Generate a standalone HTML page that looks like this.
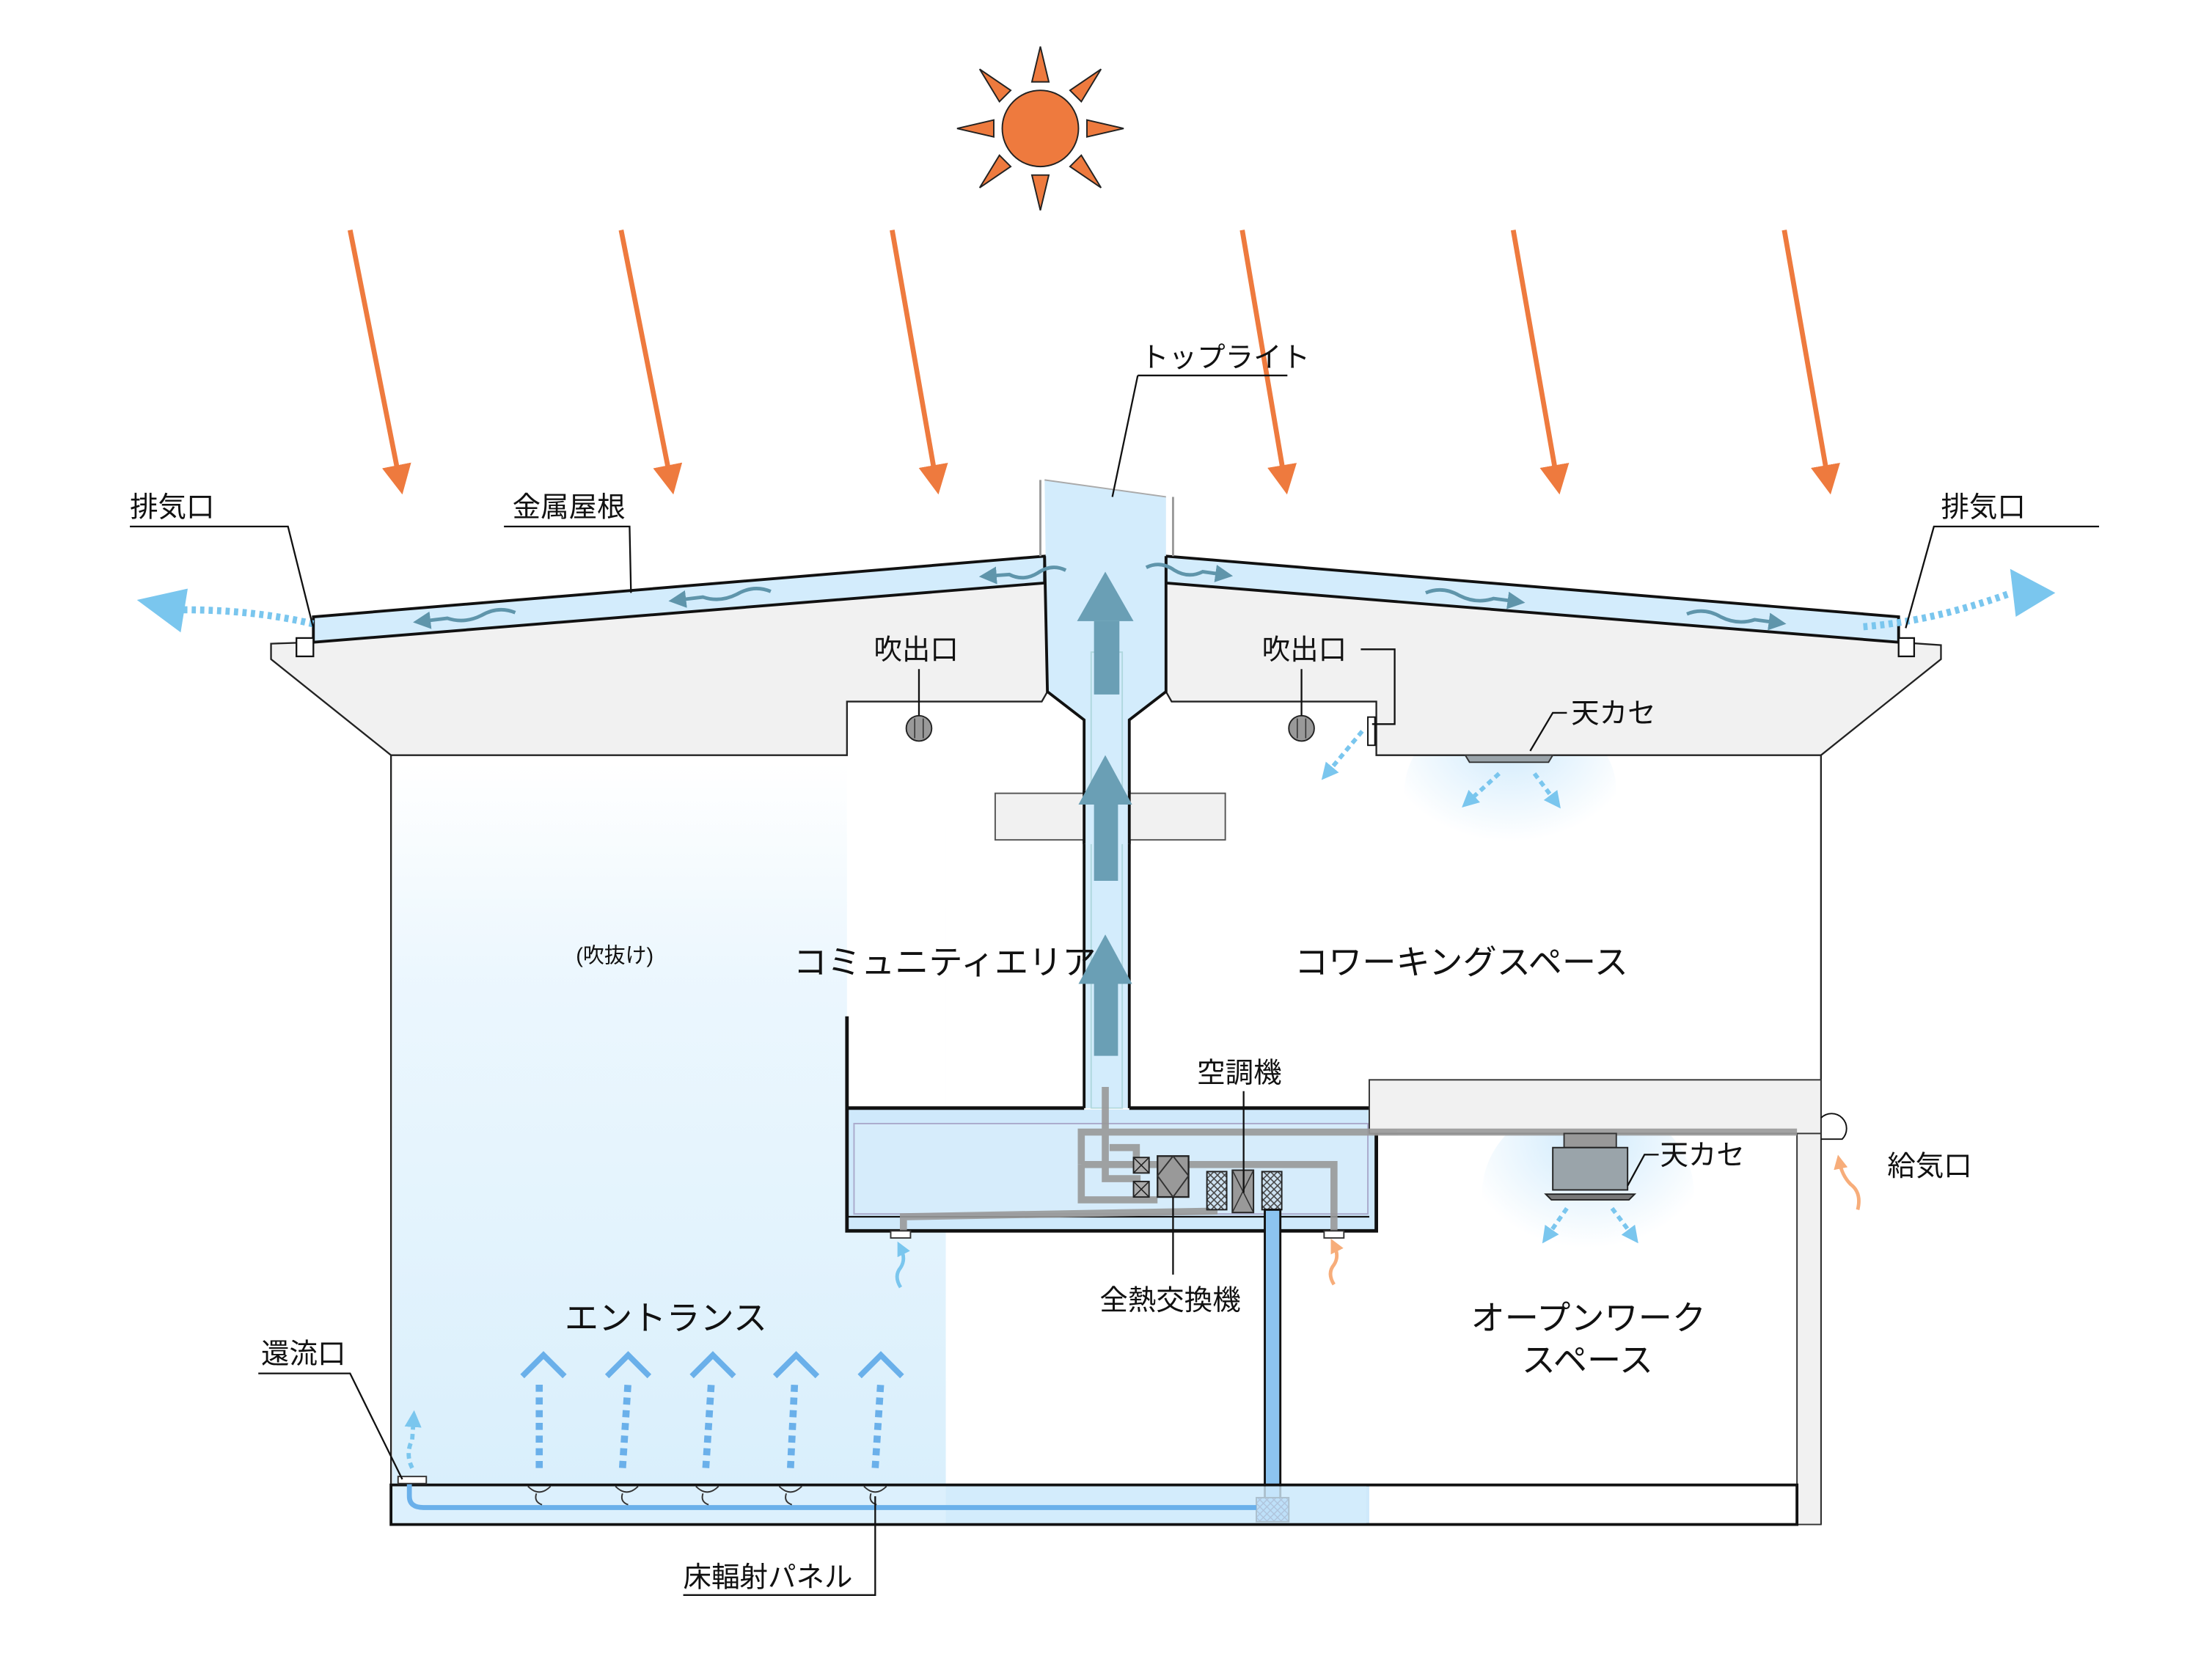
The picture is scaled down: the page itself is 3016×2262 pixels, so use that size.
<!DOCTYPE html>
<html><head><meta charset="utf-8"><style>
html,body{margin:0;padding:0;background:#fff}
svg{display:block}
text{font-family:"Liberation Sans","Noto Sans CJK JP",sans-serif;fill:#111}
</style></head><body>
<svg width="3016" height="2262" viewBox="0 0 1567 1175.3" preserveAspectRatio="none" xmlns="http://www.w3.org/2000/svg">
<defs>
<linearGradient id="lb" x1="0" y1="0" x2="0" y2="1">
<stop offset="0" stop-color="#e3f3fd" stop-opacity="0"/>
<stop offset="0.3" stop-color="#e3f3fd" stop-opacity="0.7"/>
<stop offset="1" stop-color="#d9effc"/>
</linearGradient>
<radialGradient id="glow" cx="0.5" cy="0.2" r="0.6">
<stop offset="0" stop-color="#cfeafc"/>
<stop offset="1" stop-color="#cfeafc" stop-opacity="0"/>
</radialGradient>
<pattern id="hatch" width="5" height="5" patternUnits="userSpaceOnUse">
<rect width="5" height="5" fill="#cfe3f2"/>
<path d="M0 5L5 0M0 0L5 5" stroke="#444" stroke-width="0.8"/>
</pattern>
<pattern id="hatchB" width="5" height="5" patternUnits="userSpaceOnUse">
<rect width="5" height="5" fill="#6ab0ea"/>
<path d="M0 5L5 0M0 0L5 5" stroke="#225" stroke-width="0.7"/>
</pattern>
<marker id="oa" markerWidth="6" markerHeight="6" refX="3" refY="3" orient="auto" markerUnits="strokeWidth"><path d="M0 0L6 3L0 6z" fill="#ee7a3e"/></marker>
<marker id="ta" markerWidth="5" markerHeight="5" refX="2" refY="2.5" orient="auto" markerUnits="strokeWidth"><path d="M0 0L5 2.5L0 5z" fill="#5f95ab"/></marker>
<marker id="ba" markerWidth="4" markerHeight="4" refX="2" refY="2" orient="auto" markerUnits="strokeWidth"><path d="M0 0L4 2L0 4z" fill="#7ac6ee"/></marker>
<marker id="pa" markerWidth="4" markerHeight="4" refX="2" refY="2" orient="auto" markerUnits="strokeWidth"><path d="M0 0L4 2L0 4z" fill="#f7ad7a"/></marker>
</defs>

<!-- light blue area left -->
<rect x="278" y="540" width="392" height="512" fill="url(#lb)"/>
<rect x="600" y="536" width="70" height="250" fill="#fff"/>
<rect x="670" y="1052" width="300" height="28" fill="#cfe9fb"/>
<ellipse cx="1070" cy="560" rx="75" ry="60" fill="url(#glow)"/>
<ellipse cx="1125" cy="845" rx="75" ry="65" fill="url(#glow)"/>

<!-- sun -->
<g stroke="#222" stroke-width="1" fill="#ee7a3e">
<circle cx="737" cy="91" r="27"/>
<polygon points="731,58 743,58 737,33"/>
<polygon points="731,124 743,124 737,149"/>
<polygon points="704,85 704,97 678,91"/>
<polygon points="770,85 770,97 796,91"/>
<polygon points="758,64 766,72 780,49"/>
<polygon points="716,64 708,72 694,49"/>
<polygon points="758,118 766,110 780,133"/>
<polygon points="716,118 708,110 694,133"/>
</g>
<g stroke="#ee7a3e" stroke-width="3.5" marker-end="url(#oa)">
<line x1="248" y1="163" x2="283" y2="340"/>
<line x1="440" y1="163" x2="475" y2="340"/>
<line x1="632" y1="163" x2="663" y2="340"/>
<line x1="880" y1="163" x2="910" y2="340"/>
<line x1="1072" y1="163" x2="1103" y2="340"/>
<line x1="1264" y1="163" x2="1295" y2="340"/>
</g>

<!-- gray ceiling/eaves -->
<polygon points="192,456 222,455 742,413 742,490 738,497 600,497 600,535 277,535 192,467" fill="#f1f1f1" stroke="#222" stroke-width="1.2"/>
<polygon points="826,413 1345,455 1375,457 1375,467 1290,535 975,535 975,497 830,497 826,490" fill="#f1f1f1" stroke="#222" stroke-width="1.2"/>
<polygon points="222,437 740,394 740,413 222,455" fill="#d3ecfc" stroke="#111" stroke-width="2"/>
<polygon points="826,394 1345,437 1345,455 826,413" fill="#d3ecfc" stroke="#111" stroke-width="2"/>
<rect x="210" y="452" width="12" height="13" fill="#fff" stroke="#111" stroke-width="1.2"/>
<rect x="1345" y="452" width="11" height="13" fill="#fff" stroke="#111" stroke-width="1.2"/>
<!-- shaft -->
<polygon points="740,340 826,352 826,490 800,510 800,785 768,785 768,510 742,490" fill="#d3ecfc"/>
<path d="M740,394 L742,490 L768,510 L768,785 M826,394 L826,490 L800,510 L800,785" fill="none" stroke="#111" stroke-width="2"/>
<path d="M737,340 L737,394 M831,352 L831,394" stroke="#999" stroke-width="1.5"/>
<line x1="740" y1="340" x2="826" y2="352" stroke="#aaa" stroke-width="1"/>
<rect x="773" y="462" width="22" height="323" fill="none" stroke="#9cc" stroke-width="1" opacity="0.6"/>
<rect x="705" y="562" width="163" height="33" fill="#f1f1f1" stroke="#555" stroke-width="1"/>
<rect x="768" y="560" width="32" height="38" fill="#d3ecfc"/>
<path d="M768,560V598M800,560V598" stroke="#111" stroke-width="2"/>

<g fill="#6a9fb5">
<rect x="775" y="440" width="18" height="52"/><polygon points="763,440 783,405 803,440"/>
<rect x="775" y="568" width="17" height="56"/><polygon points="764,570 783,535 802,570"/>
<rect x="775" y="695" width="17" height="53"/><polygon points="764,697 783,662 802,697"/>
</g>
<g stroke="#5f95ab" stroke-width="2.5" fill="none" marker-end="url(#ta)">
<path d="M365,434 q-12,-5 -24,2 q-12,6 -24,2 l-17,2"/>
<path d="M546,419 q-12,-5 -24,2 q-12,6 -24,2 l-17,2"/>
<path d="M755,404 q-10,-5 -20,2 q-10,6 -20,1 l-14,1"/>
<path d="M812,402 q10,-5 20,2 q10,6 20,1 l14,2"/>
<path d="M1010,420 q12,-5 24,2 q12,6 24,2 l15,2"/>
<path d="M1195,435 q12,-5 24,2 q12,6 24,2 l15,2"/>
</g>
<path d="M222,442 Q180,432 130,432" stroke="#7ac6ee" stroke-width="5" stroke-dasharray="3,3" fill="none"/>
<polygon points="97,425 133,417 128,448" fill="#7ac6ee"/>
<path d="M1320,444 Q1370,440 1425,420" stroke="#7ac6ee" stroke-width="5" stroke-dasharray="3,3" fill="none"/>
<polygon points="1456,420 1424,403 1428,437" fill="#7ac6ee"/>

<line x1="277" y1="535" x2="277" y2="1080" stroke="#222" stroke-width="1.2"/>
<line x1="1290" y1="535" x2="1290" y2="1080" stroke="#222" stroke-width="1.2"/>
<circle cx="651" cy="516" r="9" fill="#999" stroke="#222"/>
<circle cx="922" cy="516" r="9" fill="#999" stroke="#222"/>
<path d="M648,509V523M654,509V523M919,509V523M925,509V523" stroke="#333" stroke-width="0.8"/>
<line x1="651" y1="474" x2="651" y2="507" stroke="#111" stroke-width="1.2"/>
<line x1="922" y1="474" x2="922" y2="507" stroke="#111" stroke-width="1.2"/>
<rect x="969" y="508" width="5" height="20" fill="#fff" stroke="#111"/>
<path d="M964,460 H988 V513 H972" fill="none" stroke="#111" stroke-width="1.2"/>
<path d="M965,518 L940,548" stroke="#7ac6ee" stroke-width="3" stroke-dasharray="4,3" marker-end="url(#ba)"/>
<polygon points="1038,535 1100,535 1097,540 1041,540" fill="#9aa4aa" stroke="#333"/>
<path d="M1062,548 L1040,568" stroke="#7ac6ee" stroke-width="3" stroke-dasharray="4,3" marker-end="url(#ba)"/>
<path d="M1087,548 L1102,568" stroke="#7ac6ee" stroke-width="3" stroke-dasharray="4,3" marker-end="url(#ba)"/>
<path d="M1084,532 L1100,505 H1110" fill="none" stroke="#111" stroke-width="1.2"/>

<!-- mezzanine -->
<rect x="599" y="786" width="375" height="86" fill="#cfe9fb"/>
<rect x="605" y="796" width="364" height="64" fill="#d6ecfb" stroke="#aac" stroke-width="1"/>
<path d="M600,720 V785 H768 M800,785 H975 V872 H600 V785" fill="none" stroke="#111" stroke-width="2.5"/>
<line x1="600" y1="862" x2="970" y2="862" stroke="#111" stroke-width="1.2"/>
<rect x="970" y="765" width="320" height="38" fill="#f1f1f1" stroke="#333" stroke-width="1"/>
<rect x="1273" y="803" width="17" height="277" fill="#f1f1f1" stroke="#333" stroke-width="1"/>
<path d="M1290,792 a10,10 0 0 1 15,15 h-15" fill="none" stroke="#111"/>
<g stroke="#999" stroke-width="5" fill="none" opacity="0.9">
<path d="M766,825 V802 H1273"/>
<path d="M766,825 V850 H820"/>
<path d="M783,770 V835 H808"/>
<path d="M786,813 H805 V826"/>
<path d="M766,825 H855 H945 V875"/>
<path d="M860,852 V858 L640,862 V875"/>
</g>
<rect x="803" y="820" width="11" height="11" fill="#aaa" stroke="#222"/>
<rect x="803" y="837" width="11" height="11" fill="#aaa" stroke="#222"/>
<path d="M803,820l11,11m0,-11l-11,11M803,837l11,11m0,-11l-11,11" stroke="#222" stroke-width="0.8"/>
<rect x="820" y="819" width="22" height="29" fill="#999" stroke="#222" stroke-width="1.2"/>
<path d="M831,819 L820,833 L831,848 L842,833z" fill="none" stroke="#333"/>
<rect x="855" y="830" width="14" height="27" fill="url(#hatch)" stroke="#222"/>
<rect x="873" y="829" width="15" height="30" fill="#999" stroke="#222"/>
<path d="M873,829l15,30m0,-30l-15,30" stroke="#333" stroke-width="0.8"/>
<rect x="894" y="830" width="14" height="27" fill="url(#hatch)" stroke="#222"/>
<rect x="896" y="857" width="11" height="205" fill="#8cc4f0" stroke="#111" stroke-width="1.5"/>
<rect x="890" y="1061" width="23" height="17" fill="url(#hatchB)" stroke="#111"/>
<rect x="631" y="872" width="14" height="5" fill="#fff" stroke="#333"/>
<rect x="938" y="872" width="14" height="5" fill="#fff" stroke="#333"/>
<path d="M638,912 q-5,-8 0,-14 q4,-6 0,-14" stroke="#7ac6ee" stroke-width="2.5" fill="none" marker-end="url(#ba)"/>
<path d="M945,910 q-5,-8 0,-14 q4,-6 0,-14" stroke="#f7ad7a" stroke-width="2.5" fill="none" marker-end="url(#pa)"/>
<path d="M1316,857 q3,-12 -5,-18 q-6,-6 -8,-16" stroke="#f7ad7a" stroke-width="2.5" fill="none" marker-end="url(#pa)"/>
<rect x="1108" y="803" width="37" height="10" fill="#999" stroke="#333"/>
<rect x="1100" y="813" width="53" height="30" fill="#9aa4aa" stroke="#222"/>
<polygon points="1095,846 1158,846 1154,850 1099,850" fill="#777" stroke="#222"/>
<path d="M1110,856 L1096,876" stroke="#7ac6ee" stroke-width="3" stroke-dasharray="4,3" marker-end="url(#ba)"/>
<path d="M1142,856 L1157,876" stroke="#7ac6ee" stroke-width="3" stroke-dasharray="4,3" marker-end="url(#ba)"/>
<path d="M1153,840 L1165,818 H1175" fill="none" stroke="#111" stroke-width="1.2"/>

<!-- floor -->
<rect x="277" y="1052" width="996" height="28" fill="none" stroke="#111" stroke-width="2"/>
<rect x="278" y="1053" width="690" height="26" fill="#d3ecfc" opacity="0.8"/>
<path d="M290,1048 V1060 q0,8 10,8 H890" stroke="#6ab0ea" stroke-width="3.5" fill="none"/>
<rect x="282" y="1046" width="20" height="5" fill="#fff" stroke="#333"/>
<path d="M292,1040 q-5,-10 0,-20 l1,-15" stroke="#7ac6ee" stroke-width="3" stroke-dasharray="4,3" fill="none" marker-end="url(#ba)"/>
<g fill="none" stroke="#333" stroke-width="1">
<path d="M374,1053 q8,8 16,0 M380,1058 q-2,6 4,8 M436,1053 q8,8 16,0 M441,1058 q-2,6 4,8 M493,1053 q8,8 16,0 M498,1058 q-2,6 4,8 M552,1053 q8,8 16,0 M557,1058 q-2,6 4,8 M612,1053 q8,8 16,0 M617,1058 q-2,6 4,8"/>
</g>
<g stroke="#6ab0ea" stroke-width="5" stroke-dasharray="5,4" fill="none">
<path d="M382,1040 V978"/><path d="M441,1040 L445,978"/><path d="M500,1040 L504,978"/><path d="M560,1040 L563,978"/><path d="M620,1040 L624,978"/>
</g>
<g stroke="#6ab0ea" stroke-width="4" fill="none">
<path d="M370,975 L385,960 L400,975"/><path d="M430,975 L445,960 L460,975"/><path d="M490,975 L505,960 L520,975"/><path d="M549,975 L564,960 L579,975"/><path d="M609,975 L624,960 L639,975"/>
</g>

<g stroke="#111" stroke-width="1.2" fill="none">
<path d="M92,373 H204 L222,445"/>
<path d="M357,373 H446 L447,420"/>
<path d="M806,266 H912 M806,266 L788,352"/>
<path d="M1487,373 H1370 L1350,445"/>
<path d="M183,973 H248 L285,1048"/>
<path d="M484,1130 H620 V1060"/>
<line x1="881" y1="773" x2="881" y2="845"/>
<line x1="831" y1="848" x2="831" y2="903"/>
</g>

<g font-size="20">
<text x="92" y="366">排気口</text>
<text x="363" y="366">金属屋根</text>
<text x="808" y="260">トップライト</text>
<text x="1375" y="366">排気口</text>
<text x="619" y="467">吹出口</text>
<text x="894" y="467">吹出口</text>
<text x="1113" y="512">天カセ</text>
<text x="848" y="767">空調機</text>
<text x="1176" y="825">天カセ</text>
<text x="1337" y="833">給気口</text>
<text x="779" y="928">全熱交換機</text>
<text x="185" y="966">還流口</text>
<text x="484" y="1124">床輻射パネル</text>
</g>
<text x="408" y="682" font-size="15">(吹抜け)</text>
<g font-size="24">
<text x="562" y="690">コミュニティエリア</text>
<text x="917" y="690">コワーキングスペース</text>
<text x="400" y="942">エントランス</text>
<text x="1042" y="942">オープンワーク</text>
<text x="1078" y="972">スペース</text>
</g>
</svg>
</body></html>
